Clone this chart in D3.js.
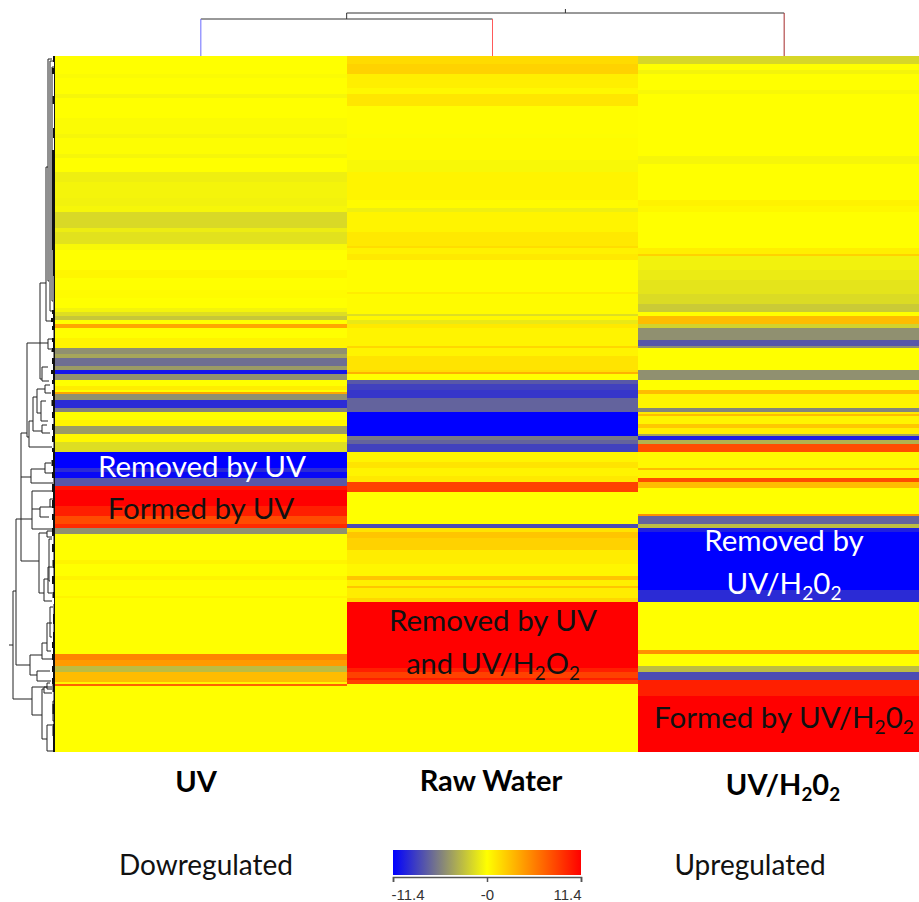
<!DOCTYPE html>
<html>
<head>
<meta charset="utf-8">
<script src="https://cdn.jsdelivr.net/npm/d3@7"></script>
<style>
  html, body { margin: 0; padding: 0; background: #fff; }
  svg { display: block; }
  text { font-family: Lato, "Open Sans", sans-serif; }
  .legend-axis text { font-family: "Liberation Sans", sans-serif; }
</style>
</head>
<body>
<div id="chart"></div>
<script>
var columns = ["UV", "Raw Water", "UV/H2O2"];

var uvRuns = [[9,0],[11,-0.2],[19,0],[21,-0.4],[31,0],[39,-0.2],[41,-0.4],[49,-0.1],[51,-0.4],[58,0],
  [63,-0.7],[71,-0.5],[75,-0.6],[78,-0.4],[86,-1.7],[88,-0.8],[94,-1.3],[97,-0.3],[107,0],[111,0.4],
  [117,0],[121,0.2],[126,0],[128,-0.5],[130,-1.5],[132,-2.5],[134,0],[136,4],[141,0],[146,0.5],
  [149,-5],[151,-4],[155,-6.5],[157,-4.5],[159,-10.5],[162,-5],[165,0],[167,0.8],[168,0],[169,4],
  [172,-5],[176,-9.5],[178,-5.5],[182,0],[185,0.5],[189,-4.5],[193,0.3],[198,-1.5],[206,-11.4],[208,-9.5],
  [211,-11],[215,-7.5],[217,10.5],[225,11.4],[230,10],[234,8],[236,9.5],[239,-5],[252,0],[254,0.5],
  [260,0],[262,0.5],[270,0],[271,0.5],[299,0],[302,5.5],[305,4.5],[308,-3],[313,3],[314,0.4],
  [315,7],[348,0]];

var rawRuns = [[4,1.6],[9,2],[16,0.7],[19,0.3],[25,1.1],[39,0.1],[41,-0.1],[52,0.2],[58,-0.3],[72,0.5],
  [76,0.2],[78,-0.7],[88,0.5],[95,1],[96,1.5],[99,0.6],[102,1],[118,0.1],[119,0.8],[129,0.2],
  [130,-1.5],[132,0.3],[134,-1],[136,1],[145,0.5],[146,1.8],[150,0.5],[157,1.2],[158,1.5],[159,3.5],
  [162,0],[164,-7.5],[167,-8.5],[171,-9],[178,-7],[190,-11.4],[192,-6],[194,-7],[198,-8.5],[203,0.5],
  [206,1.2],[210,0.5],[213,1],[218,8.5],[234,0],[236,-8],[238,1.2],[241,2.6],[247,2],[254,0.8],
  [260,0.4],[262,2.6],[265,0.7],[266,2.6],[271,0.8],[273,1.8],[306,11.4],[308,10],[311,8.5],[312,10],
  [314,8.5],[348,0]];

var h2o2Runs = [[4,-1.8],[7,0],[9,-0.5],[17,0],[19,-0.3],[50,0],[54,-0.4],[72,0],[75,0.6],[78,0.3],
  [96,0],[99,0.7],[100,2],[107,-0.6],[112,-0.9],[119,-1.2],[124,-1.6],[128,-2.4],[130,0],[134,3],
  [136,-2],[142,-5],[145,-7.5],[146,-5],[157,0],[162,-5],[167,0],[169,3],[176,0.5],[178,-5.5],
  [179,1],[180,3],[184,0.5],[186,2.5],[189,0.7],[190,-4],[192,-10],[194,-3.5],[198,8],[206,0.3],
  [207,3],[211,0.5],[213,8],[216,3],[229,0],[230,5],[234,-7],[236,-3],[238,-10],[267,-11.4],
  [273,-9.5],[297,0],[299,5],[305,0],[308,-3],[312,-8],[320,10],[348,11.4]];

var colorDomain = [-11.4, -5.7, 0, 11.4];
var colorRange = ["#0000ff", "#808080", "#ffff00", "#ff0000"];
var legendTicks = [-11.4, 0, 11.4];
var legendTickLabels = ["-11.4", "-0", "11.4"];

// column tree: merge heights
var colLeafColors = ["#6a6aff", "#ff5a5a", "#a52a2a"];
var colMergeHeights = [37, 43];
var colRootHeight = 47;

// row tree merges: [distance, top row, top child distance, bottom row, bottom child distance]
var rowMerges = [[42,267,39,321,23],[39,231,23,304,25],[34,188,28,252,16],[34,210,24,210,34],
  [28,143,15,190,26],[26,182,22,195,3],[22,170,18,187,13],[18,166,10,178,14],[10,164,5,168,4],
  [14,172,9,182,7],[13,184,8,188,5],[15,113,9,161,13],[13,155,7,162,6],[15,143,7,143,15],
  [7,141,3,146,4],[9,55,7,132,3],[7,1,3,112,6],[5,2,2,127,3],[3,5,1,122,2],[25,299,13,309,18],
  [13,293,8,301,3],[18,307,5,312,4],[8,283,3,297,4],[5,275,2,290,3],[23,315,8,329,13],[8,313,5,316,3],
  [13,316,11,341,8],[8,334,3,347,2],[11,315,3,318,3],[2,322,1,332,1],[23,217,2,236,2],[23,226,15,226,23],
  [15,225,5,230,6],[5,221,2,225,2],[24,206,10,213,2],[10,203,4,208,3],[16,238,8,268,11],[11,261,7,272,3],
  [8,237,3,240,3],[6,241,3,262,5],[7,255,3,268,3]];
var rowRootStem = [46, 42];
var rowRootRow = 294;

// dense twigs next to the heatmap: [last row, depth]
var fringeRuns = [[3,2],[6,1],[9,3],[20,1],[24,2.5],[36,1],[41,2],[47,1],[97,3],[110,2],[127,1.5],
  [129,3],[131,2],[133,4],[135,2],[137,3],[141,1.5],[143,3],[146,2],[148,3.5],[151,1.5],[154,3],[157,2],
  [159,4],[162,2],[164,3],[167,1.5],[170,3],[172,2],[175,3.5],[178,2],[181,3],[184,1.5],[187,3],[190,2],
  [193,3],[196,1.5],[198,3],[202,2],[205,3.5],[208,2],[211,3],[214,1.5],[218,3],[222,2],[226,3],[229,1.5],
  [232,3],[236,2],[240,3],[244,1.5],[248,3],[252,1.5],[256,2.5],[260,1.5],[264,3],[268,1.5],[271,2.5],
  [274,1],[279,1.5],[284,2],[288,1.5],[293,2],[296,3],[299,2],[302,3],[305,2],[308,3],[311,2],[314,3],
  [318,2.5],[324,1.5],[329,2.5],[334,1.5],[340,2.5],[348,2]];

var width = 919, height = 902;
var plot = { top: 56, bottom: 752, left: 55, right: 930 };

var svg = d3.select("#chart")
  .append("svg")
  .attr("width", width)
  .attr("height", height);

// expand the runs into one value per row
function expandRuns(runs) {
  var rows = [], start = 0;
  runs.forEach(function (r) {
    for (var i = start; i < r[0]; i++) rows.push(r[1]);
    start = r[0];
  });
  return rows;
}

var columnRows = [expandRuns(uvRuns), expandRuns(rawRuns), expandRuns(h2o2Runs)];
var nRows = columnRows[0].length;

var x = d3.scaleBand().domain(columns).range([plot.left, plot.right]);
var y = d3.scaleBand().domain(d3.range(nRows)).range([plot.top, plot.bottom]);
var color = d3.scaleLinear().domain(colorDomain).range(colorRange);

columns.forEach(function (c, i) {
  svg.append("g")
    .selectAll("rect")
    .data(columnRows[i])
    .enter()
    .append("rect")
    .attr("x", x(c))
    .attr("y", function (d, j) { return y(j); })
    .attr("width", x.bandwidth() + 0.5)
    .attr("height", y.bandwidth())
    .attr("fill", function (d) { return color(d); })
    .attr("shape-rendering", "crispEdges");
});

// column dendrogram
var colH = d3.scaleLinear().domain([0, colRootHeight]).range([plot.top, 9]);
function colCenter(i) { return x(columns[i]) + x.bandwidth() / 2; }
var colTree = svg.append("g").attr("fill", "none");
var midLeft = (colCenter(0) + colCenter(1)) / 2;

colTree.append("path")
  .attr("stroke", "#333")
  .attr("d", "M" + colCenter(0) + "," + colH(colMergeHeights[0]) + "H" + colCenter(1) +
    "M" + midLeft + "," + colH(colMergeHeights[0]) + "V" + colH(colMergeHeights[1]) +
    "H" + colCenter(2) +
    "M" + (midLeft + colCenter(2)) / 2 + "," + colH(colMergeHeights[1]) + "V" + colH(colRootHeight));

colLeafColors.forEach(function (c, i) {
  colTree.append("line")
    .attr("x1", colCenter(i)).attr("x2", colCenter(i))
    .attr("y1", colH(i == 2 ? colMergeHeights[1] : colMergeHeights[0]))
    .attr("y2", colH(0))
    .attr("stroke", c);
});

// row dendrogram
var rowD = d3.scaleLinear().domain([0, 46]).range([plot.left, 9]);
function rowY(r) { return y(Math.min(r, nRows - 1)) + y.bandwidth() / 2; }
var rowTree = svg.append("g").attr("fill", "none").attr("stroke", "#222");

rowTree.selectAll("path")
  .data(rowMerges)
  .enter()
  .append("path")
  .attr("d", function (m) {
    return "M" + rowD(m[2]) + "," + rowY(m[1]) + "H" + rowD(m[0]) + "V" + rowY(m[3]) + "H" + rowD(m[4]);
  });

rowTree.append("line")
  .attr("x1", rowD(rowRootStem[0])).attr("x2", rowD(rowRootStem[1]))
  .attr("y1", rowY(rowRootRow)).attr("y2", rowY(rowRootRow));

svg.append("g")
  .selectAll("rect")
  .data(fringeRuns)
  .enter()
  .append("rect")
  .attr("x", function (d) { return rowD(d[1]); })
  .attr("y", function (d, i) { return y(i ? fringeRuns[i - 1][0] : 0); })
  .attr("width", function (d) { return rowD(0) - rowD(d[1]); })
  .attr("height", function (d, i) {
    var prev = i ? fringeRuns[i - 1][0] : 0;
    return (d[0] - prev) * y.bandwidth();
  })
  .attr("fill", "#111");

// text with subscripts: parts in a [ ] pair are lowered
function addLabel(parts, cx, by, size, fill, weight) {
  var t = svg.append("text")
    .attr("x", cx)
    .attr("y", by)
    .attr("text-anchor", "middle")
    .attr("fill", fill)
    .style("font-size", size + "px")
    .style("font-weight", weight || "normal");
  var lowered = false;
  parts.forEach(function (p) {
    var span = t.append("tspan");
    if (Array.isArray(p)) {
      span.attr("dy", size * 0.22).style("font-size", size * 0.65 + "px").text(p[0]);
      lowered = true;
    } else {
      if (lowered) span.attr("dy", -size * 0.22);
      span.text(p);
      lowered = false;
    }
  });
}

addLabel(["Removed by UV"], 202, 477, 29.5, "#fff");
addLabel(["Formed by UV"], 201, 519, 29.5, "#111");
addLabel(["Removed by UV"], 493, 631, 29.5, "#111");
addLabel(["and UV/H", ["2"], "O", ["2"]], 493, 674, 29, "#111");
addLabel(["Removed by"], 784, 551, 29.5, "#fff");
addLabel(["UV/H", ["2"], "0", ["2"]], 784, 594, 29.5, "#fff");
addLabel(["Formed by UV/H", ["2"], "0", ["2"]], 784, 728, 29.5, "#111");

addLabel(["UV"], 196, 792, 29, "#000", "bold");
addLabel(["Raw Water"], 491, 791, 29, "#000", "bold");
addLabel(["UV/H", ["2"], "0", ["2"]], 783, 795, 29, "#000", "bold");

addLabel(["Dowregulated"], 206, 875, 28, "#111");
addLabel(["Upregulated"], 750, 875, 28, "#111");

// colour key
var legendX = d3.scaleLinear().domain([colorDomain[0], colorDomain[3]]).range([393, 581]);
var grad = svg.append("defs").append("linearGradient").attr("id", "key");
colorDomain.forEach(function (v, i) {
  grad.append("stop")
    .attr("offset", (legendX(v) - legendX.range()[0]) / (legendX.range()[1] - legendX.range()[0]))
    .attr("stop-color", colorRange[i]);
});
svg.append("rect")
  .attr("x", legendX.range()[0])
  .attr("y", 850)
  .attr("width", legendX.range()[1] - legendX.range()[0])
  .attr("height", 25)
  .attr("fill", "url(#key)");

var legendAxis = svg.append("g")
  .attr("class", "legend-axis")
  .attr("transform", "translate(0,877)")
  .call(d3.axisBottom(legendX)
    .tickValues(legendTicks)
    .tickSize(5)
    .tickFormat(function (d, i) { return legendTickLabels[i]; }));

legendAxis.selectAll("path, line").attr("stroke", "#555").attr("stroke-width", 1.5);
legendAxis.selectAll("text")
  .attr("y", 12)
  .attr("fill", "#333")
  .style("font-size", "15px")
  .attr("text-anchor", function (d, i) { return ["start", "middle", "end"][i]; })
  .attr("dx", function (d, i) { return [-2, 0, 0][i]; });
</script>
</body>
</html>
